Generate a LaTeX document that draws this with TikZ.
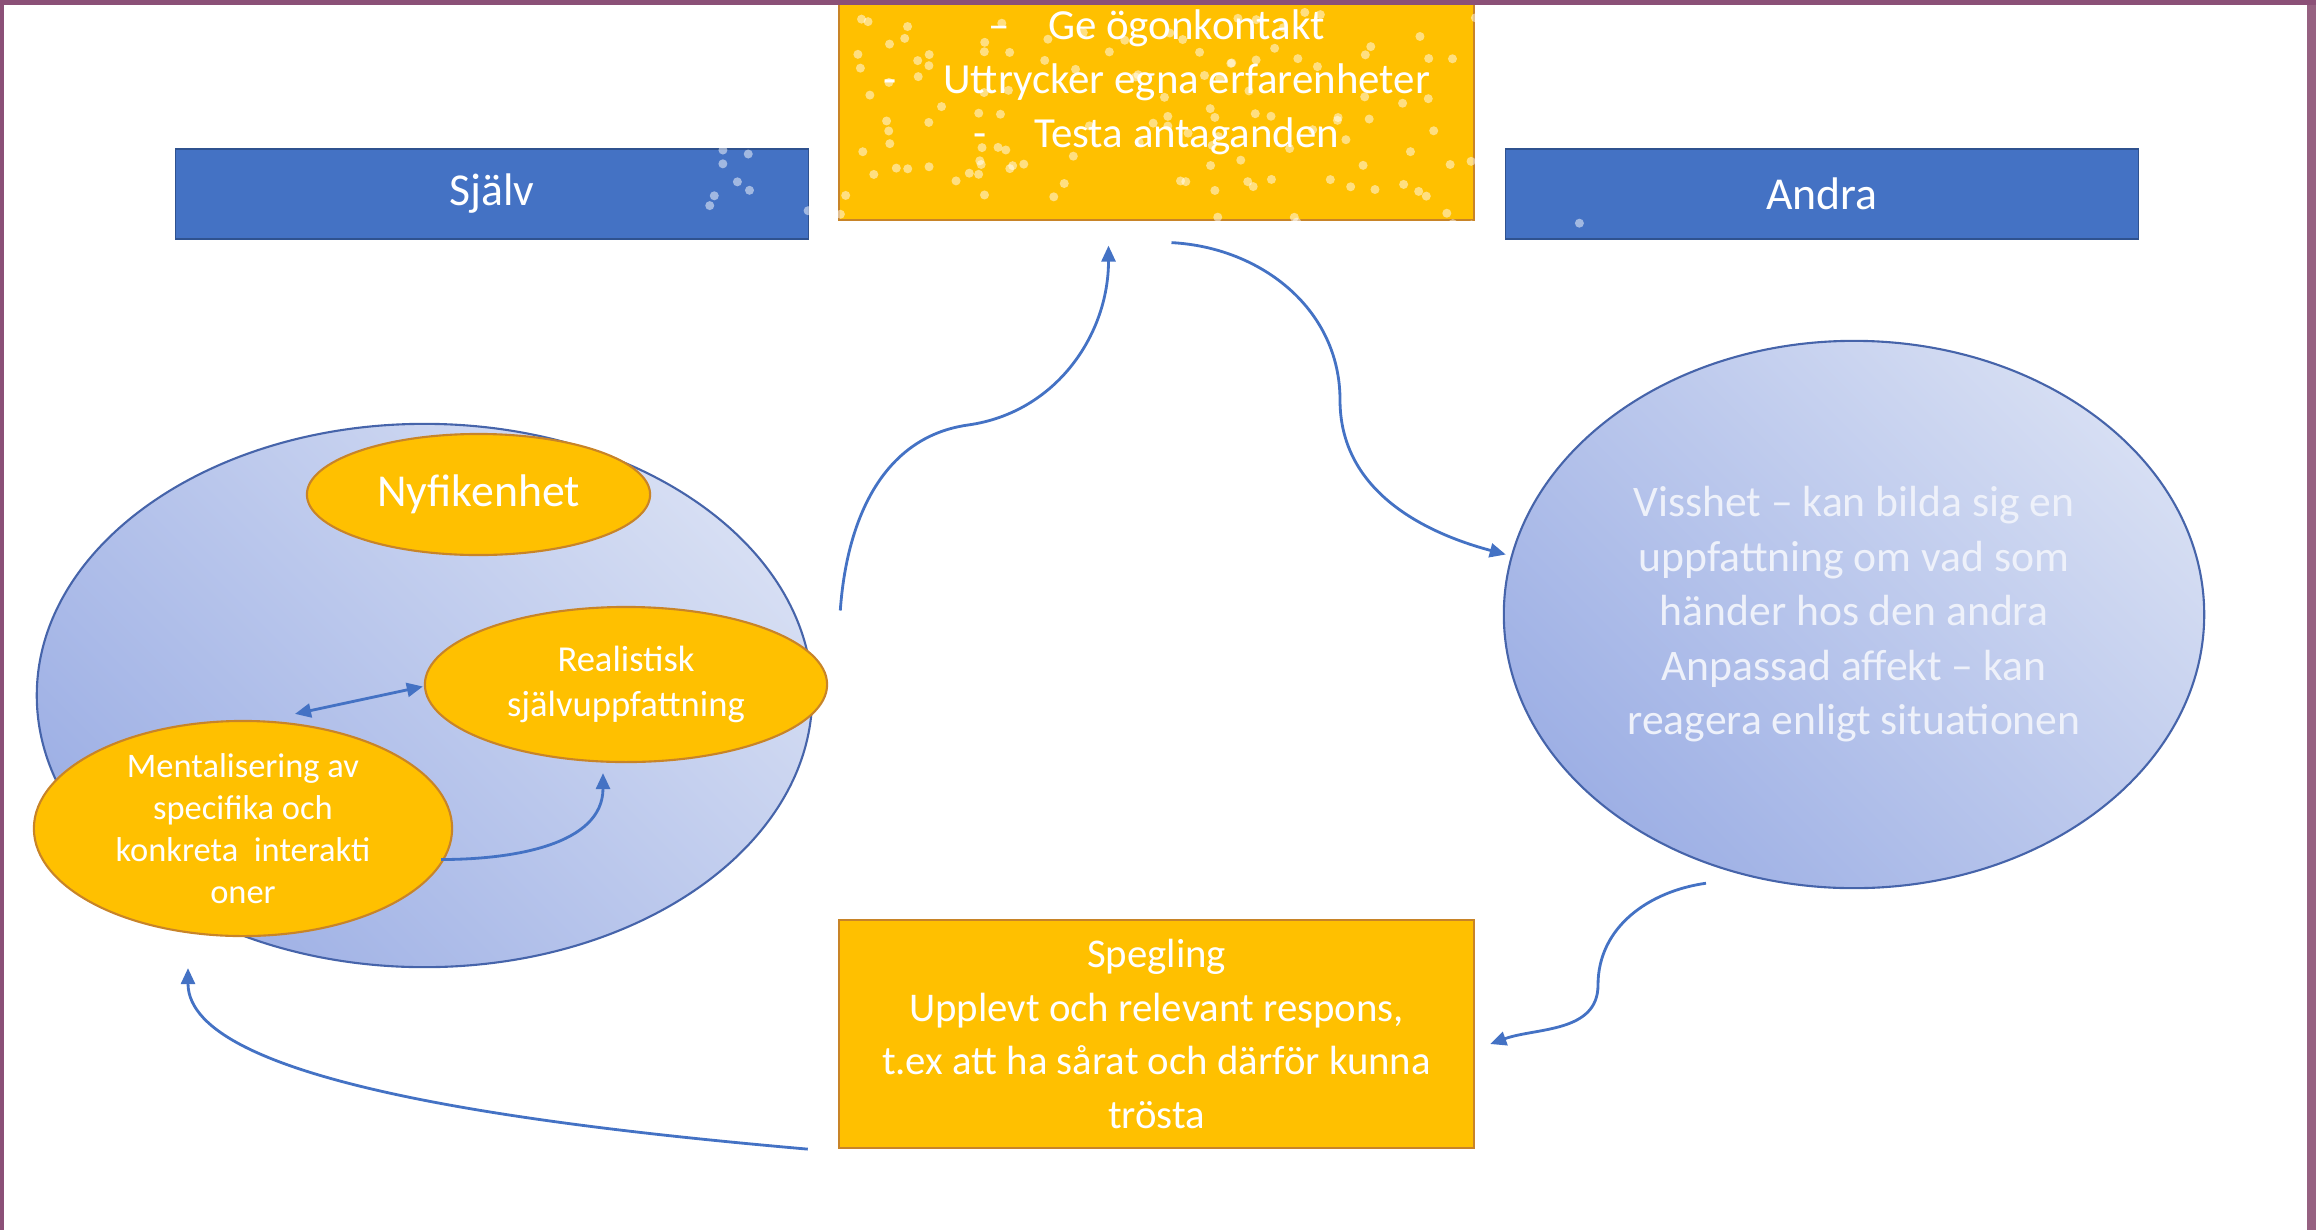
\documentclass[tikz,border=0pt]{standalone}
\usepackage{fontspec}
\setmainfont{Carlito}
\usepackage{tikz}
\usetikzlibrary{positioning,arrows.meta,shapes.geometric,calc}

\definecolor{framepurple}{RGB}{139,80,119}
\definecolor{framelight}{RGB}{150,97,129}
\definecolor{barblue}{RGB}{68,114,196}
\definecolor{barline}{RGB}{47,82,143}
\definecolor{orangefill}{RGB}{255,192,0}
\definecolor{orangeline}{RGB}{200,132,40}
\definecolor{ovallight}{RGB}{214,222,243}
\definecolor{ovaldark}{RGB}{158,176,229}
\definecolor{ovalline}{RGB}{70,100,170}
\definecolor{linkblue}{RGB}{68,114,196}

\begin{document}
\begin{tikzpicture}[x=0.01cm, y=-0.01cm,
  every node/.style={text=white},
  bar/.style={draw=barline, fill=barblue, minimum width=6.33cm, minimum height=0.9cm,
    inner sep=0pt, font=\fontsize{13}{16}\selectfont},
  orangebox/.style={draw=orangeline, line width=0.6pt, fill=orangefill, minimum width=6.35cm,
    inner sep=0pt, align=center},
  orangeoval/.style={ellipse, draw=orangeline, line width=0.6pt, fill=orangefill,
    inner sep=0pt, align=center},
  blueoval/.style={ellipse, draw=ovalline, line width=0.6pt, top color=ovallight,
    bottom color=ovaldark, shading angle=-45, inner sep=0pt, align=center},
  link/.style={draw=linkblue, line width=0.8pt, -{Triangle[length=1.6mm,width=1.4mm]}},
  twolink/.style={draw=linkblue, line width=0.8pt,
    {Triangle[length=1.6mm,width=1.4mm]}-{Triangle[length=1.6mm,width=1.4mm]}}
]
  \useasboundingbox (0,0) rectangle (2316,1230);

  %----- rubriker -----
  \node[bar] (sjalv) at (492,194) {Själv};
  \node[bar] (andra) at (1822,194) {Andra};

  %----- översta rutan -----
  \node[orangebox, minimum height=2.25cm] (kontakt) at (1156.5,107) {};
  \node[font=\fontsize{12.2}{15.3}\selectfont, align=center] (kontakttxt) at (1156.5,82)
    {–\hspace{0.9em}Ge ögonkontakt\\
     -\hspace{1.1em}Uttrycker egna erfarenheter\\
     -\hspace{1.1em}Testa antaganden};

  % prickmönster
  \pgfmathsetseed{11}
  \foreach \i in {1,...,170}{
    \pgfmathsetmacro{\dx}{709+rnd*893}
    \pgfmathsetmacro{\dy}{8+rnd*226}
    \fill[white, opacity=0.5] (\dx,\dy) circle[radius=0.045cm];
  }

  %----- Själv -----
  \node[blueoval, minimum width=7.75cm, minimum height=5.43cm] (jag) at (424.5,695.5) {};
  \node[orangeoval, minimum width=3.43cm, minimum height=1.21cm,
    font=\fontsize{13}{16}\selectfont] (nyfiken) at (478.5,494.5) {Nyfikenhet};
  \node[orangeoval, minimum width=4.02cm, minimum height=1.55cm,
    font=\fontsize{10.4}{12.6}\selectfont] (realist) at (626,684.5)
    {Realistisk\\självuppfattning};
  \node[orangeoval, minimum width=4.18cm, minimum height=2.15cm,
    font=\fontsize{9.8}{12}\selectfont] (mental) at (243,828.5)
    {Mentalisering av\\specifika och\\konkreta~ interakti\\oner};

  \draw[twolink] ($(mental.north)+(52,-6)$) -- ($(realist.west)+(-1,2)$);
  \draw[link] ($(mental.east)+(-12,31)$) to[out=0,in=-90] ($(realist.south)+(-23,10)$);

  %----- Andra -----
  \node[blueoval, minimum width=7.0cm, minimum height=5.47cm,
    text={rgb,255:red,238;green,241;blue,250},
    font=\fontsize{12.4}{15.5}\selectfont] (visshet) at (1854,614.5)
    {Visshet – kan bilda sig en\\uppfattning om vad som\\händer hos den andra\\
     Anpassad affekt – kan\\reagera enligt situationen};

  %----- Spegling -----
  \node[orangebox, minimum height=2.28cm, font=\fontsize{11.6}{15.3}\selectfont]
    (spegling) at (1156.5,1034)
    {Spegling\\Upplevt och relevant respons,\\t.ex att ha sårat och därför kunna\\trösta};

  %----- pilar -----
  \coordinate (mitt1) at (968,425);
  \coordinate (mitt2) at (1340,400);
  \coordinate (mitt3) at (1598,985);
  \draw[link] ($(jag.east)+(27,-85)$) to[out=86,in=188] (mitt1)
    to[out=8,in=-90] ($(kontakt.south)+(-48,25)$);
  \draw[link] ($(kontakt.south)+(15,22)$) to[out=-3,in=90] (mitt2)
    to[out=-90,in=165] ($(visshet.west)+(3,-60)$);
  \draw[link] ($(visshet.south)+(-148,-6)$) to[out=188,in=90] (mitt3)
    to[out=-90,in=20] ($(spegling.east)+(15,10)$);
  \draw[link] ($(spegling.south west)+(-30,0)$)
    to[out=175,in=-90,out looseness=1.1,in looseness=0.45]
    ($(mental.south)+(-55,31)$);

  %----- ram -----
  \fill[framepurple] (0,0) rectangle (2316,5);
  \fill[framepurple] (0,0) rectangle (4,1230);
  \fill[framelight] (2307,5) rectangle (2316,1230);
\end{tikzpicture}
\end{document}
